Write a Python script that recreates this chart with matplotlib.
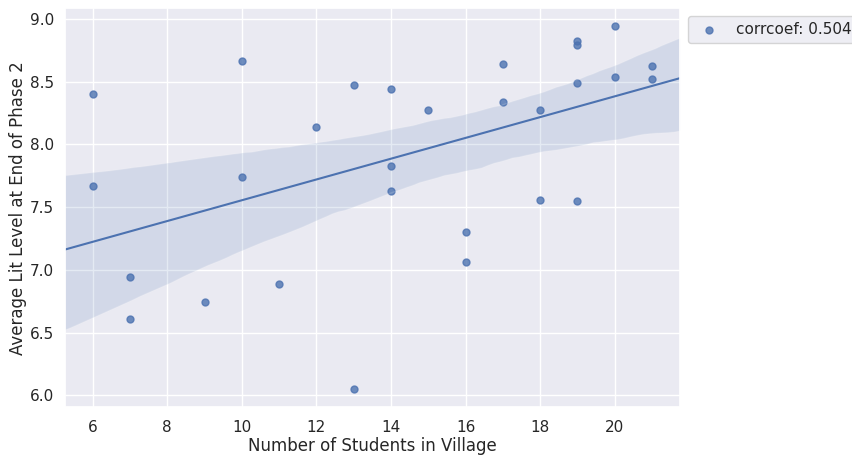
import numpy as np
import matplotlib
matplotlib.use("Agg")
import matplotlib.pyplot as plt
import seaborn as sns

students = [6, 6, 7, 7, 9, 10, 10, 11, 12, 13, 13, 14, 14, 14, 15, 16, 16,
            17, 17, 18, 18, 19, 19, 19, 19, 20, 20, 21, 21]
lit_level = [8.40, 7.67, 6.94, 6.61, 6.74, 8.66, 7.74, 6.89, 8.14, 8.47, 6.05,
             8.44, 7.83, 7.63, 8.27, 7.30, 7.06, 8.64, 8.34, 8.27, 7.56,
             8.82, 8.79, 8.49, 7.55, 8.94, 8.54, 8.62, 8.52]

sns.set_theme(style="darkgrid")
plt.rcParams['font.family'] = ['DejaVu Sans']

x = np.array(students, dtype=float)
y = np.array(lit_level, dtype=float)
r = np.corrcoef(x, y)[0, 1]

fig = plt.figure(figsize=(8.52, 4.55), dpi=100)
ax = fig.add_axes([0.076, 0.105, 0.722, 0.877])
sns.regplot(x=x, y=y, ax=ax, seed=0, truncate=False,
            label=f"corrcoef: {r:.3f}", scatter_kws=dict(s=25),
            line_kws=dict(lw=1.5))
ax.set_xlim(5.25, 21.75)
ax.tick_params(axis='x', pad=3)
ax.tick_params(axis='y', pad=1.5)
ax.set_xlabel("Number of Students in Village", labelpad=1.5)
ax.set_ylabel("Average Lit Level at End of Phase 2", labelpad=2)
ax.legend(loc="upper left", bbox_to_anchor=(1.0, 1.0))
fig.savefig("out.png", dpi=100)
